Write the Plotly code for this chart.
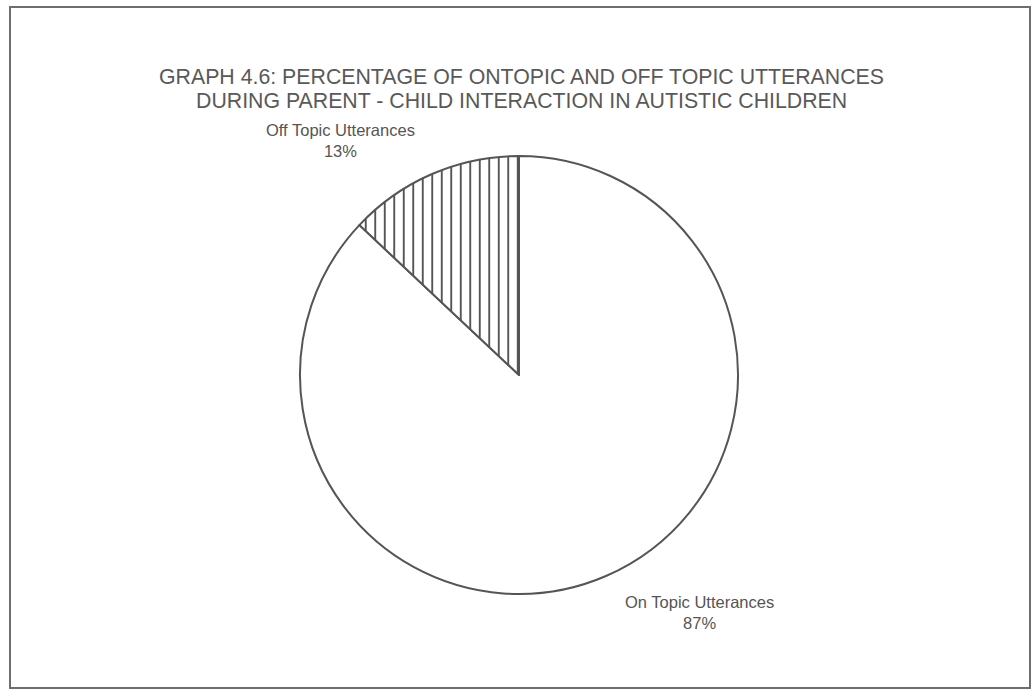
import plotly.graph_objects as go

# Share of utterances during parent - child interaction
categories = ["Off Topic Utterances", "On Topic Utterances"]
percentages = [13, 87]

title_lines = [
    "GRAPH 4.6: PERCENTAGE OF ONTOPIC AND OFF TOPIC UTTERANCES",
    "DURING PARENT - CHILD INTERACTION IN AUTISTIC CHILDREN",
]

W, H = 1034, 690
ink = "#555555"

# Going clockwise from 12 o'clock, the on-topic share is laid first so the
# off-topic wedge closes the circle in the upper-left quadrant.
order = [1, 0]
fig = go.Figure()

fig.add_trace(go.Pie(
    labels=[categories[i] for i in order],
    values=[percentages[i] for i in order],
    sort=False,
    direction="clockwise",
    rotation=0,
    textinfo="none",
    hoverinfo="label+percent",
    showlegend=False,
    domain=dict(x=[300 / W, 738 / W], y=[(H - 594) / H, (H - 156) / H]),
    marker=dict(
        colors=["white", "white"],
        line=dict(color=ink, width=2),
        pattern=dict(
            shape=["", "|"],
            fgcolor=ink,
            bgcolor="white",
            size=9.5,
            solidity=0.2,
        ),
    ),
))

# Slice labels with their percentages
label_pos = [(340, 140), (699, 612)]
for name, pct, (px, py) in zip(categories, percentages, label_pos):
    fig.add_annotation(
        x=px / W, y=1 - py / H, xref="paper", yref="paper",
        text=f"{name}<br>{pct}%",
        showarrow=False, xanchor="center", yanchor="middle",
        font=dict(family="Liberation Sans, Arial", size=16.5, color=ink),
        align="center",
    )

# Two-line heading
for line, py in zip(title_lines, [77, 101]):
    fig.add_annotation(
        x=521 / W, y=1 - py / H, xref="paper", yref="paper",
        text=line,
        showarrow=False, xanchor="center", yanchor="middle",
        font=dict(family="Liberation Sans, Arial", size=21.3, color="#595959"),
    )

# Chart frame
fig.add_shape(
    type="rect", xref="paper", yref="paper",
    x0=10 / W, x1=1030 / W, y0=1 - 688 / H, y1=1 - 7 / H,
    line=dict(color="#6e6e6e", width=2),
)

fig.update_layout(
    width=W, height=H,
    margin=dict(l=0, r=0, t=0, b=0),
    paper_bgcolor="white",
    plot_bgcolor="white",
)

fig.write_html("out.html")
